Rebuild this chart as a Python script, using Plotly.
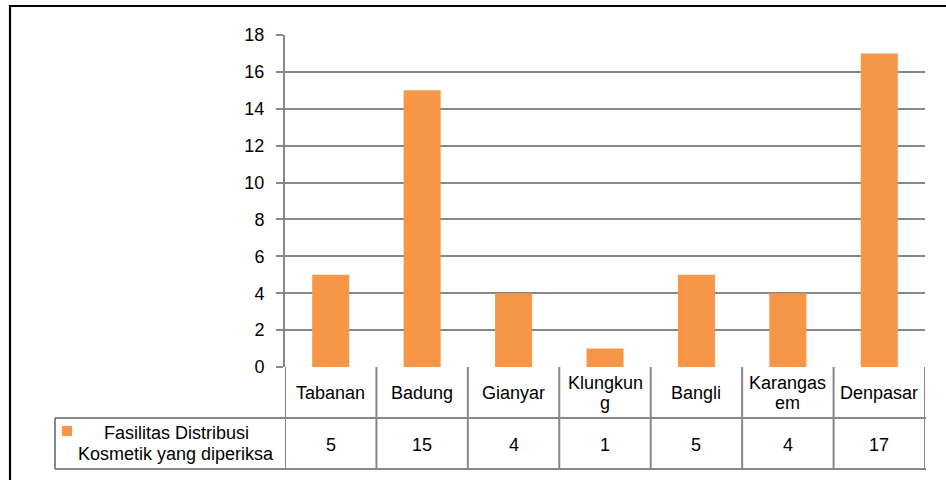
import plotly.graph_objects as go

categories = ["Tabanan", "Badung", "Gianyar", "Klungkung", "Bangli", "Karangasem", "Denpasar"]
header_labels = ["Tabanan", "Badung", "Gianyar", "Klungkun<br>g", "Bangli", "Karangas<br>em", "Denpasar"]
series_name = "Fasilitas Distribusi<br>Kosmetik yang diperiksa"
values = [5, 15, 4, 1, 5, 4, 17]
y_ticks = [0, 2, 4, 6, 8, 10, 12, 14, 16, 18]

W, H = 946, 480
FONT = "Arial, Liberation Sans, sans-serif"
GRAY = "#878787"
ORANGE = "#F79646"
FS = 18


def px(xp):
    return xp / W


def py(yp):
    return 1 - yp / H


plot_left, plot_right = 285, 925
plot_top, plot_bottom = 35, 367
row1_bottom, row2_bottom = 418, 469
legend_left = 55

n = len(categories)
xs = list(range(n))

fig = go.Figure()
fig.add_trace(go.Bar(x=xs, y=values, marker=dict(color=ORANGE, line=dict(width=0)),
                     name=series_name, showlegend=False, hoverinfo="skip"))

shapes = []
annotations = []


def text_lines(label, x, xref, center_px, spacing):
    parts = label.split("<br>")
    k = len(parts)
    for j, part in enumerate(parts):
        yc = center_px + (j - (k - 1) / 2) * spacing
        annotations.append(dict(x=x, y=py(yc), xref=xref, yref="paper", text=part, showarrow=False,
                                font=dict(family=FONT, size=FS, color="#000"),
                                xanchor="center", yanchor="middle"))


# outer chart border (cropped on right/bottom)
shapes.append(dict(type="rect", xref="paper", yref="paper", x0=px(10), x1=1.05,
                   y0=-0.05, y1=py(6), line=dict(color="#000000", width=2.2)))

# data table grid
for i in range(n + 1):
    shapes.append(dict(type="line", xref="x", yref="paper", x0=i - 0.5, x1=i - 0.5,
                       y0=py(plot_bottom), y1=py(row2_bottom), line=dict(color=GRAY, width=2)))
for yb in (row1_bottom, row2_bottom):
    shapes.append(dict(type="line", xref="paper", yref="paper", x0=px(legend_left), x1=px(plot_right + 1),
                       y0=py(yb), y1=py(yb), line=dict(color=GRAY, width=2)))
shapes.append(dict(type="line", xref="paper", yref="paper", x0=px(legend_left), x1=px(legend_left),
                   y0=py(row1_bottom), y1=py(row2_bottom), line=dict(color=GRAY, width=2)))
# legend key
shapes.append(dict(type="rect", xref="paper", yref="paper", x0=px(62), x1=px(72),
                   y0=py(436), y1=py(426), fillcolor=ORANGE, line=dict(width=0)))

for i, (lab, v) in enumerate(zip(header_labels, values)):
    text_lines(lab, i, "x", 392.5, 20)
    text_lines(str(v), i, "x", 444.5, 20)

text_lines(series_name, px(176), "paper", 443.5, 21)

fig.update_layout(
    width=W, height=H,
    margin=dict(l=0, r=0, t=0, b=0, pad=0),
    paper_bgcolor="white", plot_bgcolor="white",
    bargap=0.595, showlegend=False,
    shapes=shapes, annotations=annotations,
    xaxis=dict(domain=[px(plot_left), px(plot_right)], range=[-0.5, n - 0.5], automargin=False,
               showticklabels=False, showgrid=False, zeroline=False, showline=False, ticks=""),
    yaxis=dict(domain=[py(plot_bottom), py(plot_top)], range=[0, 18], tickvals=y_ticks, automargin=False,
               showgrid=True, gridcolor=GRAY, gridwidth=2, zeroline=False,
               showline=True, linecolor=GRAY, linewidth=2, ticks="outside", ticklen=7,
               tickcolor=GRAY, tickwidth=2,
               tickfont=dict(family=FONT, size=FS, color="#000"), ticklabelstandoff=8),
)

fig.write_html("out.html", post_script="document.body.style.margin='0';document.body.style.padding='0';",
               config={"displayModeBar": False})
